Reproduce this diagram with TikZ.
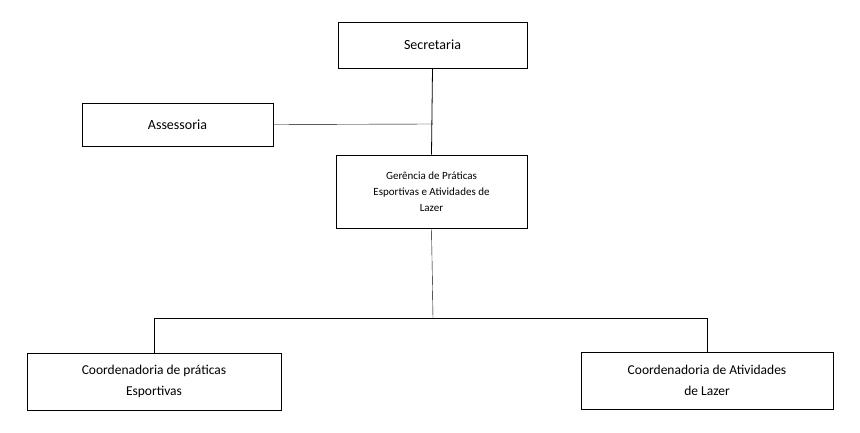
\documentclass[tikz,border=0pt]{standalone}
\usepackage{fontspec}
\setmainfont{Carlito}
\usepackage{tikz}

\begin{document}
\begin{tikzpicture}[x=1pt,y=-1pt,
  box/.style={draw, thick, align=center, inner sep=2pt}]
\useasboundingbox (0,0) rectangle (860,433);
%boxes
\node [box, minimum width=189, minimum height=46, font=\fontsize{14}{17}\selectfont] (sec) at (432.5,45) {Secretaria};
\node [box, minimum width=191, minimum height=43, font=\fontsize{14}{17}\selectfont] (ass) at (177.5,124.5) {Assessoria};
\node [box, minimum width=191, minimum height=73, font=\fontsize{11}{16}\selectfont] (ger) at (431.5,191.5) {Gerência de Práticas\\Esportivas e Atividades de\\Lazer};
\node [box, minimum width=254, minimum height=57, font=\fontsize{13.5}{21}\selectfont] (cpe) at (154,381.5) {Coordenadoria de práticas\\Esportivas};
\node [box, minimum width=252, minimum height=57, font=\fontsize{13.5}{21}\selectfont] (cal) at (707,380.5) {Coordenadoria de Atividades\\de Lazer};
%junctions
\coordinate (j1) at (433,124);
\coordinate (j2) at (433,318);
\coordinate (jl) at (154,318);
\coordinate (jr) at (707,318);
%lines
\draw [thick] (sec.south) -- (ger.north);
\draw (ass.east) -- (j1);
\draw (ger.south) -- (j2);
\draw [thick] (jl) -- (jr);
\draw [thick] (jl) -- (cpe.north);
\draw (jr) -- (cal.north);
\end{tikzpicture}
\end{document}
